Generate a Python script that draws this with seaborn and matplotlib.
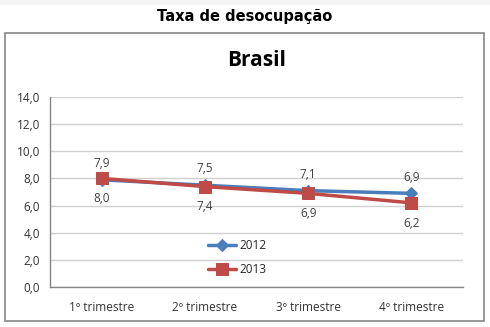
import matplotlib
matplotlib.use("Agg")
import matplotlib.pyplot as plt
import seaborn as sns
import pandas as pd
from matplotlib.patches import Rectangle

categories = ["1º trimestre", "2º trimestre", "3º trimestre", "4º trimestre"]
values_2012 = [7.9, 7.5, 7.1, 6.9]
values_2013 = [8.0, 7.4, 6.9, 6.2]
series = ["2012", "2013"]
yticks = [0, 2, 4, 6, 8, 10, 12, 14]

sns.set_style("white")
plt.rcParams['font.family'] = ['Open Sans', 'DejaVu Sans']

df = pd.DataFrame({
    "trimestre": categories * 2,
    "x": list(range(len(categories))) * 2,
    "valor": values_2012 + values_2013,
    "ano": [series[0]] * 4 + [series[1]] * 4,
})

colors = {"2012": "#4A7EBB", "2013": "#BE4B48"}
markers = {"2012": "D", "2013": "s"}
msize = {"2012": 6, "2013": 9}

fig = plt.figure(figsize=(4.9, 3.27), dpi=100)
fig.patches.append(Rectangle((0, 1 - 5/327), 1, 5/327, transform=fig.transFigure,
                             facecolor="#F4F4F4", edgecolor="none", zorder=-10))
fig.patches.append(Rectangle((5/490, 1 - 321/327), 479/490, 288/327, transform=fig.transFigure,
                             facecolor="white", edgecolor="#868686", linewidth=1.2, zorder=-10))
fig.text(0.5, 1 - 17/327, "Taxa de desocupação", ha="center", va="center",
         fontsize=10.5, fontweight="bold", family="DejaVu Sans", color="black")

ax = fig.add_axes([50/490, 1 - 287/327, 413/490, 190/327])
ax.set_facecolor("none")
ax.set_zorder(5)

for yr in series:
    sub = df[df["ano"] == yr]
    sns.lineplot(data=sub, x="x", y="valor", ax=ax, color=colors[yr], marker=markers[yr],
                 markersize=msize[yr], markeredgecolor=colors[yr], linewidth=2.5, label=yr,
                 zorder=3)

for i, v in enumerate(values_2012):
    ax.annotate(f"{v:.1f}".replace(".", ","), (i, v), xytext=(0, 7), textcoords="offset points",
                ha="center", va="bottom", fontsize=8.5, color="#404040")
for i, v in enumerate(values_2013):
    ax.annotate(f"{v:.1f}".replace(".", ","), (i, v), xytext=(0, -10), textcoords="offset points",
                ha="center", va="top", fontsize=8.5, color="#404040")

ax.set_xlim(-0.5, len(categories) - 0.5)
ax.set_ylim(0, 14)
ax.set_yticks(yticks)
ax.set_yticklabels([f"{t:.1f}".replace(".", ",") for t in yticks])
ax.set_xticks(range(len(categories)))
ax.set_xticklabels(categories)
ax.set_xticks([i - 0.5 for i in range(len(categories) + 1)], minor=True)
ax.tick_params(axis="x", which="major", length=0, pad=10, labelsize=8.5, labelcolor="#333333")
ax.tick_params(axis="x", which="minor", length=4, color="#868686", direction="out")
ax.tick_params(axis="y", which="major", length=4, color="#868686", direction="out",
               labelsize=8.5, labelcolor="#333333", pad=3)
ax.grid(axis="y", color="#D0D0D0", linewidth=1)
ax.set_axisbelow(True)
for s in ["top", "right"]:
    ax.spines[s].set_visible(False)
for s in ["left", "bottom"]:
    ax.spines[s].set_color("#868686")
    ax.spines[s].set_linewidth(1)
ax.set_xlabel("")
ax.set_ylabel("")
ax.set_title("Brasil", fontsize=15, fontweight="bold", pad=22, color="black")

ax.legend(loc="center left", bbox_to_anchor=(0.37, 0.155), frameon=False, fontsize=8.5,
          handlelength=2.4, labelspacing=0.9, handletextpad=0.3, borderaxespad=0)

fig.savefig("out.png", dpi=100)
